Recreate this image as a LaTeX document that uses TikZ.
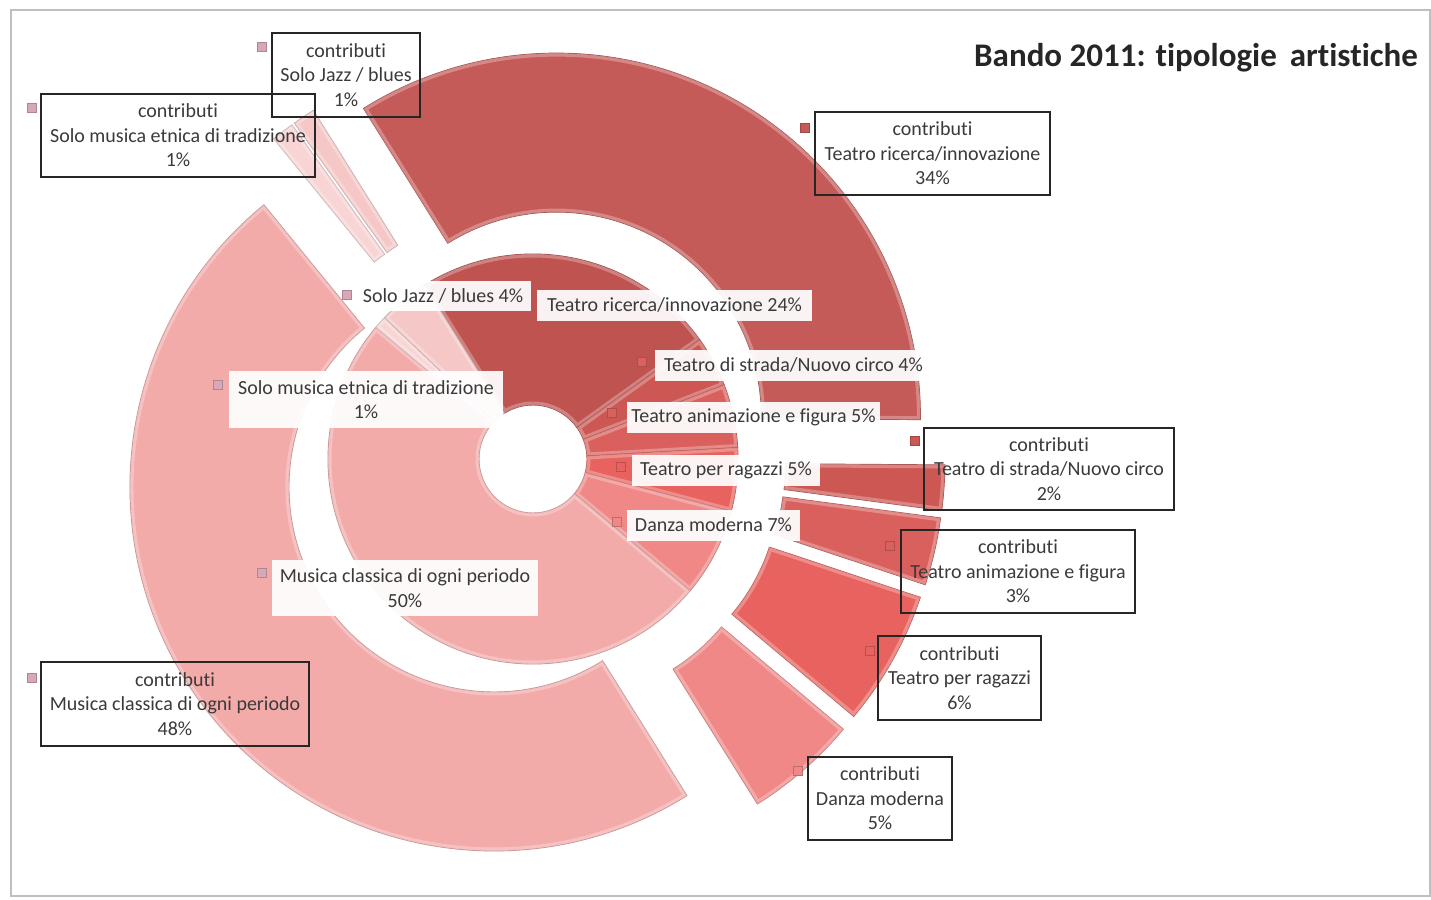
\documentclass[tikz,border=0pt]{standalone}
\usepackage{fontspec}
\setmainfont{Carlito}[Ligatures=NoCommon]
\usetikzlibrary{calc}

% slice colours (one per category, red monochrome theme)
\definecolor{cRicerca}{HTML}{C55B58}
\definecolor{cRicercaIn}{HTML}{BE5350}
\definecolor{cStrada}{HTML}{CC5753}
\definecolor{cAnim}{HTML}{D9605C}
\definecolor{cRagazzi}{HTML}{E8635F}
\definecolor{cDanza}{HTML}{EF8886}
\definecolor{cMusica}{HTML}{F3ABAA}
\definecolor{cEtnica}{HTML}{F8D4D4}
\definecolor{cJazz}{HTML}{F5C7C7}
\definecolor{cMark}{HTML}{D9A8B8}
\definecolor{cFrame}{HTML}{BFBFBF}
\definecolor{cBox}{HTML}{262626}
\definecolor{cText}{HTML}{3A3A3A}

% ring piece: colour, start angle, end angle, inner radius, outer radius, explosion
\newcommand\ringpiece[6]{%
  \pgfmathsetmacro\pcmid{(#2+#3)/2}%
  \begin{scope}[shift={(\pcmid:#6)}]
    \path[fill=#1, draw=#1!82!black, line width=0.9]
      (#2:#4) arc[start angle=#2, end angle=#3, radius=#4]
      -- (#3:#5) arc[start angle=#3, end angle=#2, radius=#5] -- cycle;
    \begin{scope}
      \clip (#2:#4) arc[start angle=#2, end angle=#3, radius=#4]
        -- (#3:#5) arc[start angle=#3, end angle=#2, radius=#5] -- cycle;
      \draw[white, opacity=0.28, line width=7]
        (#2:#4) arc[start angle=#2, end angle=#3, radius=#4]
        -- (#3:#5) arc[start angle=#3, end angle=#2, radius=#5] -- cycle;
    \end{scope}
  \end{scope}}

\tikzset{
  lbl/.style={font=\fontsize{20}{24.5}\selectfont, text=cText, align=center, inner sep=0pt},
  outbox/.style={lbl, draw=cBox, line width=2},
  inbox/.style={lbl, fill=white, fill opacity=0.93, text opacity=1},
  marker/.style={minimum size=9, inner sep=0pt, fill=#1, draw=#1!80!black, line width=0.4},
}

\begin{document}
\begin{tikzpicture}[x=1pt, y=-1pt]
\useasboundingbox (0,0) rectangle (1431,899);
\fill[white] (0,0) rectangle (1431,899);
\draw[cFrame, line width=1.2] (11,10) rectangle (1430,896);

\begin{scope}[shift={(533,459)}]
  % inner ring: application shares
  \ringpiece{cRicercaIn}{-122}{-35.6}{54}{205}{0}
  \ringpiece{cStrada}{-35.6}{-21.2}{54}{205}{0}
  \ringpiece{cAnim}{-21.2}{-3.2}{54}{205}{0}
  \ringpiece{cRagazzi}{-3.2}{14.8}{54}{205}{0}
  \ringpiece{cDanza}{14.8}{40}{54}{205}{0}
  \ringpiece{cMusica}{40}{220}{54}{205}{0}
  \ringpiece{cEtnica}{220}{223.6}{54}{205}{0}
  \ringpiece{cJazz}{223.6}{238}{54}{205}{0}
  % outer ring: contributions, exploded
  \ringpiece{cRicerca}{-122}{0.4}{205}{364}{48}
  \ringpiece{cStrada}{0.4}{7.6}{205}{364}{48}
  \ringpiece{cAnim}{7.6}{18.4}{205}{364}{48}
  \ringpiece{cRagazzi}{18.4}{40}{205}{364}{48}
  \ringpiece{cDanza}{40}{58}{205}{364}{48}
  \ringpiece{cMusica}{58}{230.8}{205}{364}{48}
  \ringpiece{cEtnica}{230.8}{234.4}{205}{364}{48}
  \ringpiece{cJazz}{234.4}{238}{205}{364}{48}
\end{scope}

% title
\node[font=\fontsize{33}{39}\selectfont\bfseries, text=cBox] (title) at (1196,58)
  {Bando 2011: tipologie\, artistiche};

% outer ring labels
\node[outbox, minimum width=148, minimum height=84] (oJazz) at (346,75)
  {contributi\\Solo Jazz / blues\\1\%};
\node[outbox, minimum width=274, minimum height=83] (oEtnica) at (178,135.5)
  {contributi\\Solo musica etnica di tradizione\\1\%};
\node[outbox, minimum width=235, minimum height=83] (oRicerca) at (932.5,153.5)
  {contributi\\Teatro ricerca/innovazione\\34\%};
\node[outbox, minimum width=250, minimum height=82] (oStrada) at (1049,469)
  {contributi\\Teatro di strada/Nuovo circo\\2\%};
\node[outbox, minimum width=234, minimum height=83] (oAnim) at (1018,571.5)
  {contributi\\Teatro animazione e figura\\3\%};
\node[outbox, minimum width=163, minimum height=84] (oRagazzi) at (959.5,678)
  {contributi\\Teatro per ragazzi\\6\%};
\node[outbox, minimum width=144, minimum height=83] (oDanza) at (880,798.5)
  {contributi\\Danza moderna\\5\%};
\node[outbox, minimum width=268, minimum height=84] (oMusica) at (175,704)
  {contributi\\Musica classica di ogni periodo\\48\%};

% inner ring labels
\node[inbox, minimum width=176, minimum height=30] (iJazz) at (443,296)
  {Solo Jazz / blues 4\%};
\node[inbox, minimum width=275, minimum height=31] (iRicerca) at (674.5,305)
  {Teatro ricerca/innovazione 24\%};
\node[inbox, minimum width=277, minimum height=31] (iStrada) at (793.5,365)
  {Teatro di strada/Nuovo circo 4\%};
\node[inbox, minimum width=253, minimum height=31] (iAnim) at (753.5,417)
  {Teatro animazione e figura 5\%};
\node[inbox, minimum width=188, minimum height=31] (iRagazzi) at (726,470)
  {Teatro per ragazzi 5\%};
\node[inbox, minimum width=173, minimum height=31] (iDanza) at (713.5,525)
  {Danza moderna 7\%};
\node[inbox, minimum width=274, minimum height=57] (iEtnica) at (366,399.5)
  {Solo musica etnica di tradizione\\1\%};
\node[inbox, minimum width=266, minimum height=56] (iMusica) at (405,588)
  {Musica classica di ogni periodo\\50\%};

% legend keys beside the labels
\node[marker=cMark] (kOJazz) at (262,47) {};
\node[marker=cMark] (kOEtnica) at (32,108) {};
\node[marker=cRicerca] (kORicerca) at (805,128) {};
\node[marker=cStrada] (kOStrada) at (915,441) {};
\node[marker=cAnim] (kOAnim) at (890,546) {};
\node[marker=cRagazzi] (kORagazzi) at (870,651) {};
\node[marker=cDanza] (kODanza) at (798,771) {};
\node[marker=cMark] (kOMusica) at (32,678) {};
\node[marker=cMark] (kIJazz) at (347,295) {};
\node[marker=cMark] (kIEtnica) at (218,385) {};
\node[marker=cAnim] (kIStrada) at (642,362) {};
\node[marker=cAnim] (kIAnim) at (612,413) {};
\node[marker=cRagazzi] (kIRagazzi) at (621,467) {};
\node[marker=cDanza] (kIDanza) at (617,522) {};
\node[marker=cMark] (kIMusica) at (262,573) {};
\end{tikzpicture}
\end{document}
